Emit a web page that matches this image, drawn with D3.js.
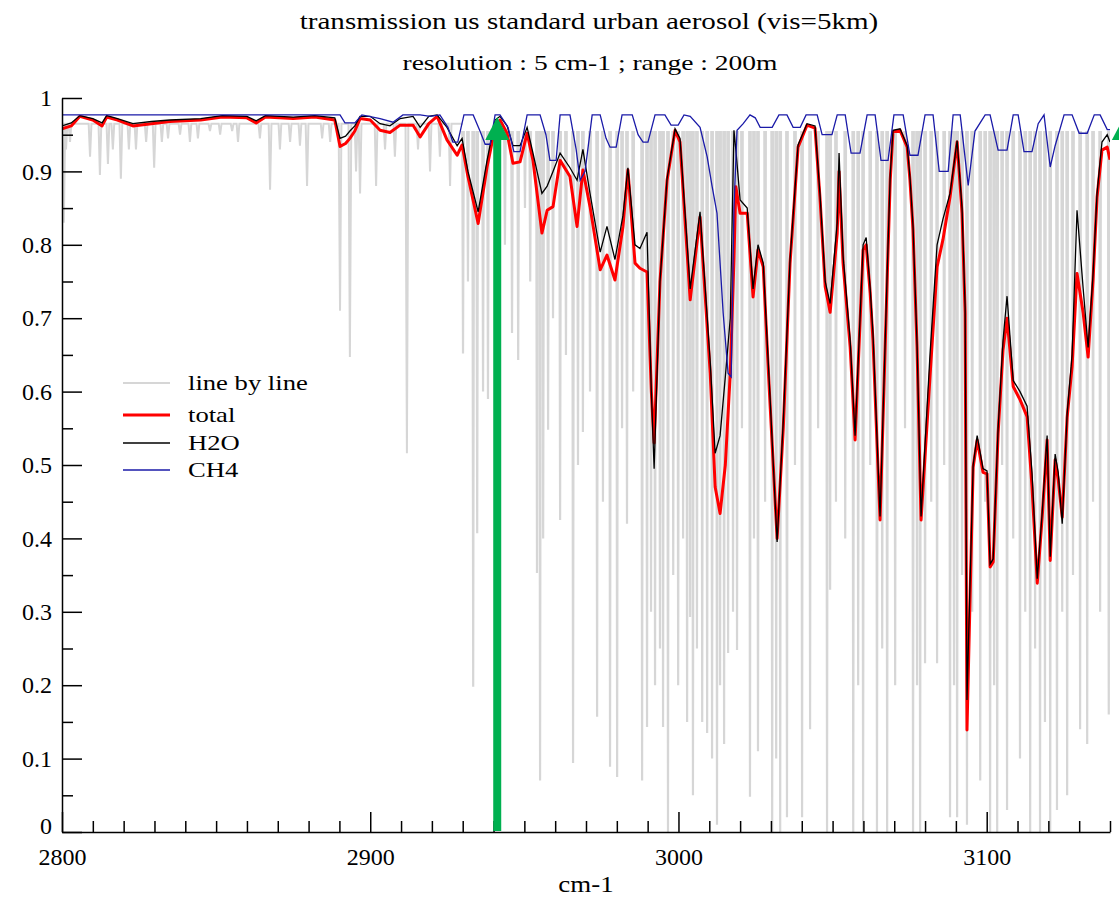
<!DOCTYPE html>
<html>
<head>
<meta charset="utf-8">
<script src="https://cdn.jsdelivr.net/npm/d3@7"></script>
<style>
  body { margin: 0; background: #fff; }
  svg { display: block; font-family: "Liberation Serif", "Times New Roman", serif; }
  .axis path, .axis line { stroke: #000; stroke-width: 1.5; }
</style>
</head>
<body>
<svg id="chart" width="1119" height="900"></svg>
<script>
// *******************
// transmission chart data
// *******************

// wavenumber grid shared by total and H2O curves (cm-1)
const waves = [
  2800.0, 2803.0, 2805.8, 2810.0, 2813.0, 2814.5, 2818.0, 2823.0, 2829.0, 2835.0,
  2845.0, 2852.0, 2860.0, 2863.0, 2866.0, 2875.0, 2882.0, 2888.5, 2890.2, 2892.0,
  2893.4, 2895.0, 2896.7, 2900.0, 2903.2, 2906.4, 2909.7, 2913.9, 2916.2, 2919.0,
  2921.7, 2924.9, 2928.2, 2929.8, 2931.7, 2935.0, 2937.9, 2940.5, 2942.1, 2944.4,
  2946.3, 2948.6, 2950.9, 2952.8, 2955.7, 2957.4, 2959.3, 2961.6, 2964.8, 2967.1,
  2969.0, 2971.3, 2974.6, 2976.8, 2979.4, 2982.0, 2983.6, 2985.9, 2987.5, 2989.8,
  2991.2, 2992.1, 2994.0, 2996.3, 2998.9, 3000.5, 3003.8, 3007.0, 3010.3, 3011.9,
  3013.5, 3015.2, 3016.8, 3018.0, 3018.6, 3020.0, 3022.3, 3024.2, 3025.8, 3027.5,
  3029.5, 3032.0, 3034.0, 3036.2, 3038.8, 3041.7, 3044.3, 3045.9, 3047.6, 3049.2,
  3051.5, 3052.1, 3053.4, 3055.7, 3057.3, 3059.9, 3060.9, 3062.2, 3063.1, 3065.4,
  3067.7, 3068.7, 3069.6, 3071.9, 3074.2, 3075.1, 3076.1, 3077.4, 3078.7, 3081.6,
  3083.9, 3085.8, 3088.1, 3090.4, 3092.0, 3093.0, 3093.6, 3095.6, 3096.9, 3098.8,
  3100.1, 3101.1, 3102.1, 3103.7, 3105.3, 3106.6, 3108.6, 3110.8, 3113.1, 3114.7,
  3116.4, 3118.0, 3119.6, 3120.6, 3122.2, 3123.2, 3124.5, 3126.1, 3127.7, 3129.3,
  3131.3, 3132.9, 3134.5, 3135.8, 3137.4, 3139.1, 3140.0
];

const total = [
  0.958, 0.962, 0.975, 0.970, 0.962, 0.974, 0.970, 0.962, 0.965, 0.968,
  0.970, 0.974, 0.973, 0.966, 0.974, 0.972, 0.974, 0.970, 0.934, 0.938,
  0.945, 0.955, 0.972, 0.970, 0.956, 0.953, 0.963, 0.963, 0.947, 0.965,
  0.975, 0.943, 0.922, 0.936, 0.893, 0.829, 0.906, 0.960, 0.970, 0.952,
  0.911, 0.913, 0.952, 0.915, 0.816, 0.847, 0.852, 0.915, 0.893, 0.825,
  0.902, 0.852, 0.766, 0.786, 0.752, 0.825, 0.902, 0.775, 0.768, 0.763,
  0.600, 0.530, 0.750, 0.888, 0.956, 0.940, 0.725, 0.838, 0.625, 0.470,
  0.434, 0.500, 0.625, 0.780, 0.879, 0.843, 0.843, 0.729, 0.793, 0.770,
  0.600, 0.400, 0.550, 0.775, 0.933, 0.963, 0.959, 0.865, 0.743, 0.708,
  0.816, 0.900, 0.775, 0.661, 0.534, 0.793, 0.800, 0.734, 0.670, 0.425,
  0.752, 0.888, 0.954, 0.956, 0.933, 0.888, 0.820, 0.660, 0.425, 0.620,
  0.770, 0.807, 0.865, 0.940, 0.843, 0.707, 0.139, 0.497, 0.534, 0.490,
  0.488, 0.361, 0.368, 0.543, 0.657, 0.700, 0.607, 0.589, 0.566, 0.470,
  0.339, 0.429, 0.534, 0.370, 0.507, 0.480, 0.429, 0.565, 0.634, 0.761,
  0.707, 0.647, 0.752, 0.865, 0.929, 0.933, 0.916
];

const h2o = [
  0.962, 0.966, 0.976, 0.972, 0.966, 0.976, 0.972, 0.965, 0.968, 0.970,
  0.972, 0.976, 0.975, 0.969, 0.976, 0.974, 0.976, 0.973, 0.945, 0.948,
  0.955, 0.962, 0.975, 0.975, 0.965, 0.962, 0.972, 0.975, 0.960, 0.975,
  0.977, 0.960, 0.935, 0.945, 0.900, 0.845, 0.915, 0.970, 0.975, 0.962,
  0.935, 0.935, 0.960, 0.925, 0.870, 0.880, 0.900, 0.925, 0.905, 0.888,
  0.930, 0.870, 0.790, 0.825, 0.780, 0.840, 0.905, 0.800, 0.795, 0.817,
  0.600, 0.495, 0.750, 0.890, 0.958, 0.945, 0.740, 0.845, 0.640, 0.516,
  0.540, 0.620, 0.700, 0.956, 0.930, 0.861, 0.850, 0.740, 0.800, 0.775,
  0.610, 0.395, 0.560, 0.780, 0.936, 0.965, 0.962, 0.870, 0.750, 0.720,
  0.830, 0.925, 0.785, 0.670, 0.540, 0.800, 0.810, 0.740, 0.680, 0.430,
  0.760, 0.895, 0.956, 0.958, 0.935, 0.892, 0.825, 0.665, 0.430, 0.650,
  0.800, 0.835, 0.870, 0.942, 0.850, 0.715, 0.180, 0.500, 0.540, 0.495,
  0.492, 0.365, 0.372, 0.550, 0.670, 0.730, 0.615, 0.600, 0.580, 0.489,
  0.345, 0.435, 0.540, 0.375, 0.515, 0.490, 0.420, 0.570, 0.650, 0.847,
  0.740, 0.660, 0.760, 0.870, 0.940, 0.950, 0.940
];

// CH4 curve has its own breakpoints
const ch4Waves = [
  2800.0, 2890.2, 2891.8, 2895.0, 2897.3, 2903.2, 2907.4, 2910.6, 2916.2, 2919.4,
  2922.6, 2925.2, 2926.8, 2928.4, 2930.4, 2933.4, 2935.6, 2937.3, 2938.9, 2940.5,
  2942.1, 2944.7, 2946.6, 2948.6, 2950.9, 2955.1, 2957.0, 2958.3, 2960.3, 2961.6,
  2964.8, 2966.8, 2968.1, 2969.7, 2972.0, 2974.6, 2976.5, 2977.8, 2979.8, 2981.7,
  2985.0, 2986.9, 2988.5, 2990.1, 2992.4, 2995.6, 2997.6, 2999.9, 3001.8, 3003.8,
  3007.0, 3009.3, 3010.9, 3012.5, 3014.5, 3016.1, 3017.1, 3018.0, 3019.0, 3021.0,
  3023.2, 3024.9, 3026.5, 3030.4, 3032.6, 3035.2, 3037.2, 3039.5, 3041.4, 3045.0,
  3046.6, 3049.8, 3051.5, 3054.1, 3056.0, 3058.9, 3061.2, 3063.8, 3065.7, 3068.0,
  3069.9, 3072.9, 3075.1, 3077.7, 3080.0, 3082.6, 3084.6, 3087.5, 3089.1, 3091.4,
  3094.0, 3096.2, 3099.5, 3101.1, 3103.7, 3106.6, 3108.6, 3110.2, 3112.1, 3114.7,
  3116.7, 3118.6, 3120.6, 3122.2, 3125.1, 3127.7, 3130.0, 3132.6, 3134.9, 3136.8,
  3139.1, 3140.0
];

const ch4 = [
  0.977, 0.977, 0.966, 0.966, 0.977, 0.972, 0.967, 0.977, 0.977, 0.975,
  0.977, 0.960, 0.940, 0.940, 0.977, 0.977, 0.955, 0.937, 0.937, 0.977,
  0.977, 0.960, 0.927, 0.927, 0.977, 0.977, 0.950, 0.915, 0.915, 0.977,
  0.977, 0.930, 0.888, 0.900, 0.977, 0.977, 0.945, 0.933, 0.933, 0.977,
  0.977, 0.950, 0.940, 0.940, 0.977, 0.977, 0.963, 0.963, 0.977, 0.975,
  0.960, 0.920, 0.880, 0.843, 0.707, 0.625, 0.620, 0.850, 0.956, 0.965,
  0.977, 0.973, 0.960, 0.960, 0.977, 0.977, 0.960, 0.960, 0.977, 0.977,
  0.950, 0.950, 0.977, 0.977, 0.925, 0.925, 0.977, 0.977, 0.915, 0.915,
  0.977, 0.977, 0.922, 0.922, 0.977, 0.977, 0.900, 0.900, 0.977, 0.977,
  0.881, 0.955, 0.977, 0.977, 0.929, 0.929, 0.977, 0.977, 0.927, 0.927,
  0.965, 0.977, 0.906, 0.935, 0.977, 0.977, 0.952, 0.952, 0.977, 0.977,
  0.957, 0.957
];

// line-by-line spectrum: individual absorption lines (position, minimum transmission)
const lblWaves = [
  2800.6, 2801.3, 2802.6, 2809.1, 2812.3, 2814.9, 2816.5, 2819.1, 2821.7, 2824.0,
  2827.3, 2829.9, 2832.4, 2834.4, 2838.3, 2841.5, 2844.1, 2848.0, 2851.3, 2855.2,
  2857.1, 2864.2, 2867.5, 2870.7, 2874.0, 2877.2, 2879.5, 2884.4, 2887.0, 2890.2,
  2893.4, 2895.4, 2896.7, 2901.9, 2904.8, 2908.0, 2911.9, 2915.5, 2919.4, 2922.6,
  2925.9, 2930.1, 2931.7, 2933.4, 2934.7, 2936.6, 2938.2, 2943.7, 2946.0, 2948.0,
  2950.2, 2951.9, 2954.1, 2955.1, 2956.1, 2957.7, 2959.3, 2961.6, 2963.5, 2965.8,
  2967.4, 2969.0, 2971.3, 2973.6, 2975.5, 2977.8, 2980.1, 2981.7, 2983.3, 2985.3,
  2988.2, 2989.8, 2991.1, 2992.4, 2994.0, 2995.0, 2996.6, 2998.3, 2999.9, 3001.5,
  3002.8, 3003.8, 3004.7, 3006.0, 3007.7, 3009.3, 3010.9, 3012.5, 3013.5, 3014.8,
  3016.1, 3017.7, 3019.0, 3020.6, 3023.2, 3024.5, 3025.8, 3028.1, 3030.4, 3031.7,
  3033.0, 3035.2, 3037.8, 3040.1, 3042.7, 3045.3, 3048.2, 3049.2, 3051.1, 3054.1,
  3056.7, 3058.3, 3059.9, 3062.2, 3064.4, 3066.1, 3067.7, 3070.3, 3073.5, 3076.1,
  3077.4, 3078.4, 3080.0, 3082.0, 3083.9, 3086.2, 3088.1, 3089.4, 3090.4, 3092.0,
  3093.6, 3095.3, 3097.9, 3099.5, 3101.1, 3102.4, 3103.4, 3105.0, 3106.6, 3108.6,
  3110.8, 3112.5, 3114.1, 3115.7, 3117.3, 3118.9, 3120.6, 3122.8, 3124.5, 3126.1,
  3128.0, 3130.3, 3132.6, 3134.5, 3136.8, 3139.6
];
const lblDepths = [
  0.830, 0.930, 0.940, 0.920, 0.895, 0.910, 0.930, 0.890, 0.930, 0.930,
  0.940, 0.905, 0.940, 0.945, 0.950, 0.940, 0.945, 0.955, 0.950, 0.955,
  0.940, 0.945, 0.875, 0.930, 0.940, 0.935, 0.880, 0.945, 0.940, 0.710,
  0.647, 0.900, 0.870, 0.880, 0.930, 0.920, 0.516, 0.930, 0.900, 0.920,
  0.880, 0.652, 0.750, 0.198, 0.407, 0.600, 0.590, 0.800, 0.680, 0.643,
  0.850, 0.750, 0.353, 0.070, 0.400, 0.548, 0.700, 0.425, 0.650, 0.094,
  0.500, 0.545, 0.600, 0.157, 0.450, 0.089, 0.075, 0.550, 0.420, 0.600,
  0.070, 0.143, 0.300, 0.200, 0.250, 0.143, 0.000, 0.350, 0.200, 0.400,
  0.150, 0.293, 0.050, 0.250, 0.150, 0.135, 0.100, 0.010, 0.200, 0.120,
  0.244, 0.300, 0.248, 0.550, 0.048, 0.400, 0.110, 0.450, 0.000, 0.100,
  0.000, 0.020, 0.500, 0.020, 0.140, 0.550, 0.000, 0.330, 0.450, 0.400,
  0.000, 0.200, 0.000, 0.500, 0.000, 0.250, 0.000, 0.200, 0.550, 0.000,
  0.200, 0.000, 0.230, 0.450, 0.230, 0.500, 0.020, 0.200, 0.020, 0.350,
  0.010, 0.300, 0.070, 0.450, 0.000, 0.200, 0.000, 0.500, 0.030, 0.400,
  0.100, 0.300, 0.000, 0.250, 0.000, 0.150, 0.000, 0.030, 0.300, 0.050,
  0.350, 0.140, 0.120, 0.450, 0.300, 0.160
];
// level the line-by-line curve returns to between lines
const lblClearTop = 0.965;
const lblBandTop = 0.955;
const lblBandStart = 2930;

// green markers (cm-1, top of arrow)
const arrowWaves = [2941.2, 3144.5];
const arrowTop = 0.974;

const xMajorTicks = [2800, 2900, 3000, 3100];
const yMajorTicks = [0, 0.1, 0.2, 0.3, 0.4, 0.5, 0.6, 0.7, 0.8, 0.9, 1];
const legendLabels = ["line by line", "total", "H2O", "CH4"];

// *******************
// layout
// *******************
const PLOT = { LEFT: 62, RIGHT: 1110, TOP: 98, BOTTOM: 832 };
const COLORS = { lbl: "#d6d6d6", total: "#ff0000", h2o: "#000000", ch4: "#1a1aa8", arrow: "#00b050" };
const FONT = '"Liberation Serif", "Times New Roman", serif';
const TEXT_STRETCH = 1.21; // the reference text is wider than plain Times

const svg = d3.select("#chart");

// stretch text horizontally to match the reference's wide glyphs
function stretchText(sel, k) {
  sel.each(function () {
    const len = this.getComputedTextLength();
    d3.select(this)
      .attr("textLength", len * k)
      .attr("lengthAdjust", "spacingAndGlyphs");
  });
}

const x = d3.scaleLinear().domain([2800, 3140]).range([PLOT.LEFT, PLOT.RIGHT]);
const y = d3.scaleLinear().domain([0, 1]).range([PLOT.BOTTOM, PLOT.TOP]);

svg.append("defs").append("clipPath").attr("id", "plot-clip")
  .append("rect")
  .attr("x", PLOT.LEFT).attr("y", PLOT.TOP - 10)
  .attr("width", PLOT.RIGHT - PLOT.LEFT).attr("height", PLOT.BOTTOM - PLOT.TOP + 10);

// **1. Title and subtitle**
svg.append("text")
  .attr("x", 589).attr("y", 29)
  .attr("text-anchor", "middle")
  .style("font-family", FONT)
  .style("font-size", "24px")
  .text("transmission us standard urban aerosol (vis=5km)")
  .call(stretchText, TEXT_STRETCH);

svg.append("text")
  .attr("x", 590).attr("y", 70)
  .attr("text-anchor", "middle")
  .style("font-family", FONT)
  .style("font-size", "22px")
  .text("resolution : 5 cm-1 ; range : 200m")
  .call(stretchText, 1.25);

// **2. Curves**
const plot = svg.append("g").attr("clip-path", "url(#plot-clip)");
const line = d3.line().x((d) => x(d[0])).y((d) => y(d[1]));

// line-by-line: continuous in the clear window, narrow separate spikes inside the band
const clearPoints = [[2800, lblClearTop]];
const bandSpikes = [];
lblWaves.forEach((w, i) => {
  if (w < lblBandStart) {
    clearPoints.push([w - 0.45, lblClearTop], [w, lblDepths[i]], [w + 0.45, lblClearTop]);
  } else {
    bandSpikes.push([[w - 0.25, lblBandTop], [w, lblDepths[i]], [w + 0.25, lblBandTop]]);
  }
});
clearPoints.push([lblBandStart, lblClearTop]);

plot.append("path")
  .attr("d", line(clearPoints))
  .attr("fill", "none")
  .attr("stroke", COLORS.lbl)
  .attr("stroke-width", 2);

plot.append("g")
  .selectAll("path")
  .data(bandSpikes)
  .join("path")
  .attr("d", (d) => line(d))
  .attr("fill", COLORS.lbl)
  .attr("stroke", COLORS.lbl)
  .attr("stroke-width", 2.2);

plot.append("path")
  .attr("d", line(waves.map((w, i) => [w, total[i]])))
  .attr("fill", "none")
  .attr("stroke", COLORS.total)
  .attr("stroke-width", 3)
  .attr("stroke-linejoin", "round");

plot.append("path")
  .attr("d", line(waves.map((w, i) => [w, h2o[i]])))
  .attr("fill", "none")
  .attr("stroke", COLORS.h2o)
  .attr("stroke-width", 1.3);

plot.append("path")
  .attr("d", line(ch4Waves.map((w, i) => [w, ch4[i]])))
  .attr("fill", "none")
  .attr("stroke", COLORS.ch4)
  .attr("stroke-width", 1.3);

// **3. Axes (ticks point inward)**
const styleTickText = (g) => g.selectAll("text")
  .attr("font-family", FONT)
  .style("font-family", FONT)
  .style("font-size", "24px")
  .style("fill", "#000");

const xMinor = d3.range(2800, 3141, 10).filter((t) => t % 100 !== 0);
svg.append("g")
  .attr("class", "axis")
  .attr("transform", `translate(0,${PLOT.BOTTOM})`)
  .call(d3.axisBottom(x).tickValues(xMinor).tickSizeInner(-11).tickSizeOuter(0).tickFormat(""))
  .call((g) => g.select(".domain").remove());

svg.append("g")
  .attr("class", "axis")
  .attr("transform", `translate(0,${PLOT.BOTTOM})`)
  .call(d3.axisBottom(x).tickValues(xMajorTicks).tickSizeInner(-20).tickSizeOuter(0).tickPadding(16).tickFormat(d3.format("d")))
  .attr("font-family", FONT)
  .call(styleTickText);

const yMinor = d3.range(0.05, 1, 0.1);
svg.append("g")
  .attr("class", "axis")
  .attr("transform", `translate(${PLOT.LEFT},0)`)
  .call(d3.axisLeft(y).tickValues(yMinor).tickSizeInner(-11).tickSizeOuter(0).tickFormat(""))
  .call((g) => g.select(".domain").remove());

svg.append("g")
  .attr("class", "axis")
  .attr("transform", `translate(${PLOT.LEFT},0)`)
  .call(d3.axisLeft(y).tickValues(yMajorTicks).tickSizeInner(-20).tickSizeOuter(0).tickPadding(10)
    .tickFormat((d) => (d === 0 || d === 1 ? String(d) : d3.format(".1f")(d))))
  .attr("font-family", FONT)
  .call(styleTickText)
  .call((g) => g.selectAll("text").attr("y", (d) => (d === 0 ? -6 : 0)));

svg.append("text")
  .attr("x", 586).attr("y", 892)
  .attr("text-anchor", "middle")
  .style("font-family", FONT)
  .style("font-size", "24px")
  .text("cm-1")
  .call(stretchText, 1.12);

// **4. Legend**
const legendStyles = [
  { color: COLORS.lbl, width: 2 },
  { color: COLORS.total, width: 3 },
  { color: COLORS.h2o, width: 1.3 },
  { color: COLORS.ch4, width: 1.3 }
];
const legendRows = [383, 415, 443, 470];
const legend = svg.append("g").attr("class", "legend");
legendLabels.forEach((label, i) => {
  const row = legend.append("g").attr("transform", `translate(0,${legendRows[i]})`);
  row.append("line")
    .attr("x1", 123).attr("x2", 170)
    .attr("stroke", legendStyles[i].color)
    .attr("stroke-width", legendStyles[i].width);
  row.append("text")
    .attr("x", 188).attr("y", 0)
    .attr("dy", "0.32em")
    .style("font-family", FONT)
    .style("font-size", "22px")
    .text(label)
    .call(stretchText, TEXT_STRETCH);
});

// **5. Green arrows**
arrowWaves.forEach((w) => {
  const ax = x(w);
  const top = y(arrowTop);
  svg.append("line")
    .attr("x1", ax).attr("x2", ax)
    .attr("y1", PLOT.BOTTOM - 1).attr("y2", top + 18)
    .attr("stroke", COLORS.arrow)
    .attr("stroke-width", 8);
  svg.append("path")
    .attr("d", `M${ax - 12},${top + 23}L${ax},${top}L${ax + 12},${top + 23}Z`)
    .attr("fill", COLORS.arrow);
});
</script>
</body>
</html>
